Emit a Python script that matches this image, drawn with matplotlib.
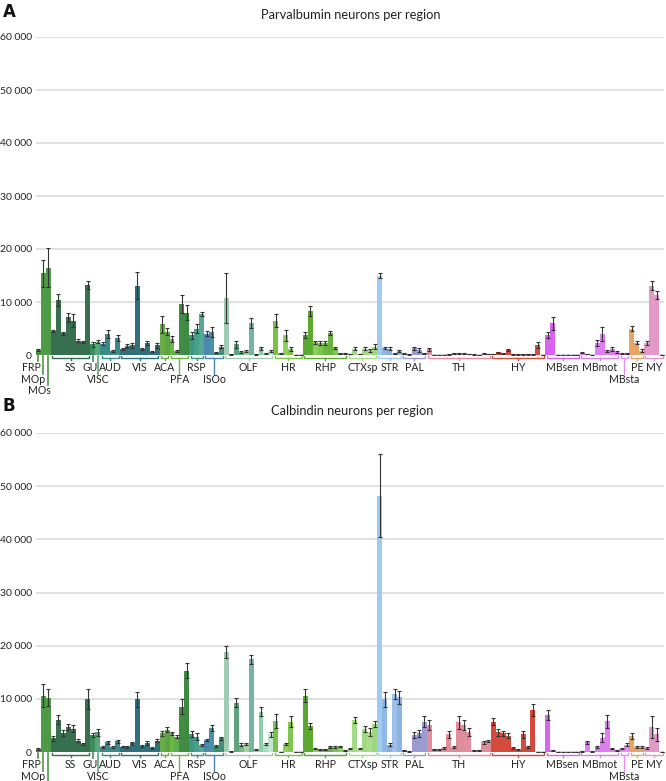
import matplotlib
matplotlib.use("Agg")
import matplotlib.pyplot as plt
from matplotlib.ticker import FuncFormatter

plt.rcParams['font.family'] = ['Lato', 'DejaVu Sans']

# brain regions, in the order they appear along the x axis
groups = ["FRP", "MOp", "MOs", "SS", "GU", "VISC", "AUD", "VIS", "ACA", "PFA", "RSP", "ISOo",
          "OLF", "HR", "RHP", "CTXsp", "STR", "PAL", "TH", "HY", "MBsen", "MBmot", "MBsta", "PE", "MY"]
group_sizes = [1, 1, 1, 8, 1, 1, 4, 8, 2, 4, 3, 4, 10, 6, 9, 6, 5, 5, 13, 11, 7, 8, 2, 3, 4]

# Parvalbumin counts (mean, error) per sub-region
pv_mean = [900, 15400, 16500,
           4500, 10400, 4100, 7100, 6500, 2700, 2400, 13200,
           2000, 2500,
           2100, 4000, 700, 3200,
           1200, 1700, 1800, 13100, 1100, 2200, 600, 1800,
           5800, 4400,
           3000, 700, 9700, 8000,
           3700, 5000, 7700,
           4000, 4300, 400, 1600,
           10700, 100, 2000, 600, 700, 6000, 100, 1250, 300, 750,
           6500, 300, 3700, 1100, 50, 50,
           3800, 8300, 2400, 2200, 2200, 4200, 1400, 300, 300,
           200, 1200, 200, 1200, 900, 1600,
           15000, 1400, 1200, 300, 750,
           300, 100, 1300, 1000, 300,
           1100, 50, 50, 50, 100, 300, 300, 250, 150, 100, 50, 250, 150,
           200, 500, 300, 900, 100, 100, 100, 100, 100, 1900, 50,
           3800, 6000, 50, 50, 50, 50, 50,
           400, 200, 50, 2300, 3900, 700, 1200, 600,
           300, 300,
           5000, 2300, 800,
           2300, 13100, 11300, 50]
pv_err = [150, 2600, 3700,
          200, 1100, 300, 800, 1300, 300, 200, 700,
          400, 300,
          300, 700, 150, 600,
          200, 300, 400, 2600, 200, 400, 100, 400,
          1600, 700,
          600, 150, 1700, 1400,
          600, 800, 400,
          500, 900, 100, 300,
          4700, 50, 600, 150, 150, 900, 50, 300, 100, 200,
          1300, 50, 1000, 400, 30, 30,
          500, 1000, 300, 400, 400, 400, 200, 80, 80,
          80, 300, 80, 300, 300, 400,
          400, 200, 300, 100, 200,
          100, 50, 300, 400, 100,
          300, 30, 30, 30, 50, 80, 80, 80, 50, 50, 30, 80, 50,
          80, 150, 100, 200, 50, 50, 50, 50, 50, 600, 30,
          500, 1200, 30, 30, 30, 30, 30,
          100, 80, 30, 600, 1300, 200, 400, 200,
          80, 80,
          400, 300, 300,
          400, 900, 800, 30]

# Calbindin counts (mean, error) per sub-region
cb_mean = [500, 10600, 10200,
           2600, 6100, 3600, 4700, 4400, 2100, 1500, 10000,
           3200, 3700,
           900, 1800, 900, 2000,
           1000, 900, 1600, 9900, 1100, 1700, 800, 2100,
           3500, 4200,
           3500, 2900, 8500, 15300,
           3400, 2900, 1300,
           2300, 4500, 1100, 2600,
           18800, 100, 9300, 1400, 1500, 17400, 400, 7600, 1500, 3300,
           5800, 50, 1500, 5700, 30, 30,
           10600, 4900, 600, 500, 500, 900, 900, 1000, 300,
           600, 6000, 600, 4300, 3800, 5300,
           48200, 9900, 1400, 10900, 10300,
           300, 100, 3200, 3500, 5700,
           5100, 500, 500, 800, 3300, 1000, 5600, 5100, 3800, 300, 300, 1800,
           2000, 5700, 3700, 3500, 3100, 700, 400, 3300, 1000, 7900, 50, 50,
           7000, 300, 30, 30, 30, 30, 30,
           100, 1800, 100, 1000, 2700, 5800, 600, 300,
           600, 1400,
           3000, 1000, 900,
           800, 4700, 3300, 50]
cb_err = [200, 2200, 1600,
          500, 800, 500, 600, 700, 300, 200, 1900,
          400, 600,
          150, 300, 150, 300,
          150, 150, 300, 1400, 200, 300, 150, 300,
          500, 500,
          300, 300, 1400, 1400,
          500, 600, 200,
          200, 500, 200, 300,
          1200, 50, 900, 200, 150, 800, 100, 800, 200, 400,
          1300, 30, 100, 1000, 20, 20,
          1200, 600, 100, 100, 100, 150, 150, 150, 80,
          100, 600, 100, 600, 700, 600,
          7800, 1400, 200, 1000, 1200,
          80, 50, 500, 700, 1000,
          1000, 100, 100, 150, 700, 200, 1200, 900, 800, 80, 80, 300,
          200, 700, 600, 500, 500, 200, 100, 600, 200, 1200, 30, 30,
          900, 80, 20, 20, 20, 20, 20,
          50, 300, 50, 200, 900, 1200, 100, 80,
          100, 200,
          600, 200, 200,
          200, 2000, 1200, 30]

# look of the chart
group_colors = {
    "FRP": "#4f8d3c", "MOp": "#4e9a47", "MOs": "#4e9a47", "SS": "#37704f",
    "GU": "#3d8c5e", "VISC": "#55a878", "AUD": "#3a8a8c", "VIS": "#30707a",
    "ACA": ["#67ad48", "#5ca444"],
    "PFA": ["#6ab842", "#5fae4e", "#3f8e44", "#3e8a42"],
    "RSP": ["#3f9580", "#48a088", "#55a896"],
    "ISOo": ["#4a88ae", "#4a90a8", "#3d8c6c", "#42907a"],
    "OLF": ["#9fccb2", "#6fb08a", "#5ea47c", "#78b68e", "#a6d4a0",
            "#76b69e", "#9ad6b4", "#8ad0a8", "#a8dcc0", "#bfe6d2"],
    "HR": ["#78c24a", "#86ca58", "#8ed060", "#80c650", "#9ad66c", "#a4da78"],
    "RHP": ["#5aa832", "#5eaa30", "#8acc5e", "#7cc250", "#6ab840",
            "#68b23e", "#7cc454", "#8ccc64", "#98d270"],
    "CTXsp": ["#a9de8a", "#a4da84", "#b2e294", "#a0d880", "#aade8c", "#9ed67e"],
    "STR": ["#9fcaf4", "#90b8e4", "#8ab2e0", "#9cc0ea", "#8cb4e2"],
    "PAL": "#9b9bd2", "TH": "#e08e9c", "HY": "#d44a3c", "MBsen": "#da62f2",
    "MBmot": "#e07df2", "MBsta": "#e68ef0", "PE": "#e8a464", "MY": "#e399c8",
}
label_row = {"MOp": 2, "MOs": 3, "VISC": 2, "PFA": 2, "ISOo": 2, "MBsta": 2}
label_nudge = {"FRP": 0.4, "MOp": 0.4, "MOs": 0.4, "GU": -0.45}
right_aligned = {"FRP", "MOp", "MOs"}
row_px = {1: 12, 2: 24, 3: 35}

bar_colors = []
starts = []
pos = 0
for g, n in zip(groups, group_sizes):
    starts.append(pos)
    c = group_colors[g]
    for k in range(n):
        bar_colors.append(c[k % len(c)] if isinstance(c, list) else c)
    pos += n
x = list(range(pos))

W, H = 666, 781
fig = plt.figure(figsize=(W / 100, H / 100), dpi=100)


def fmt(v, _):
    return f"{int(v):,}".replace(",", " ")


def draw_panel(rect, means, errs):
    ax = fig.add_axes(rect)
    ax_h = rect[3] * H
    room = rect[1] * H  # pixels left below the baseline
    ax.bar(x, means, width=1.0, color=bar_colors, linewidth=0, zorder=2,
           yerr=errs, error_kw=dict(ecolor="#333333", elinewidth=0.8, capsize=1.1,
                                    capthick=0.8, zorder=3))
    ax.set_xlim(-0.5, len(x) - 0.5)
    ax.set_ylim(0, 60000)
    ax.set_yticks(range(0, 60001, 10000))
    ax.yaxis.set_major_formatter(FuncFormatter(fmt))
    ax.grid(axis="y", color="#d9d9d9", linewidth=1.1, zorder=0)
    ax.set_axisbelow(True)
    for s in ax.spines.values():
        s.set_visible(False)
    ax.tick_params(axis="y", length=0, pad=3, labelsize=7.5, labelcolor="#222222")
    ax.set_xticks([])

    tr = ax.get_xaxis_transform()

    def py(px):
        return -px / ax_h

    for g, n, s in zip(groups, group_sizes, starts):
        c = group_colors[g]
        c = c[0] if isinstance(c, list) else c
        row = label_row.get(g, 1)
        mid = s + (n - 1) / 2
        text_px = row_px[row]
        fits = text_px + 4 < room
        if n == 1:
            top = text_px - 5 if row > 1 else 6
            if not fits:
                top = room
            ax.plot([mid, mid], [py(0.5), py(top)], color=c, lw=1.2,
                    transform=tr, clip_on=False)
        else:
            a, b = s - 0.5 + 0.25, s + n - 0.5 - 0.25
            ax.plot([a, a, b, b], [py(0.5), py(3), py(3), py(0.5)], color=c, lw=1.0,
                    transform=tr, clip_on=False)
            down = text_px - 5 if row > 1 else 5
            ax.plot([mid, mid], [py(3), py(down)], color=c, lw=1.0,
                    transform=tr, clip_on=False)
        if not fits:
            continue
        ha = "right" if g in right_aligned else "center"
        ax.text(mid + label_nudge.get(g, 0), py(text_px), g, transform=tr, ha=ha,
                va="center", fontsize=7.6, color="#222222", clip_on=False)
    return ax


# axes placed so that the 0 and 60 000 gridlines fall where they do in the figure
left, width = 36 / W, 628 / W
draw_panel([left, (H - 355) / H, width, 318 / H], pv_mean, pv_err)
draw_panel([left, (H - 752) / H, width, 319 / H], cb_mean, cb_err)

fig.text(351 / W, 1 - 15 / H, "Parvalbumin neurons per region", ha="center", va="center",
         fontsize=9.3, color="#222222")
fig.text(352 / W, 1 - 411 / H, "Calbindin neurons per region", ha="center", va="center",
         fontsize=9.3, color="#222222")
fig.text(3 / W, 1 - 12 / H, "A", ha="left", va="center", fontsize=12,
         fontweight="bold", family="DejaVu Sans", color="#111111")
fig.text(3 / W, 1 - 406 / H, "B", ha="left", va="center", fontsize=12,
         fontweight="bold", family="DejaVu Sans", color="#111111")

fig.savefig("out.png", dpi=100)
